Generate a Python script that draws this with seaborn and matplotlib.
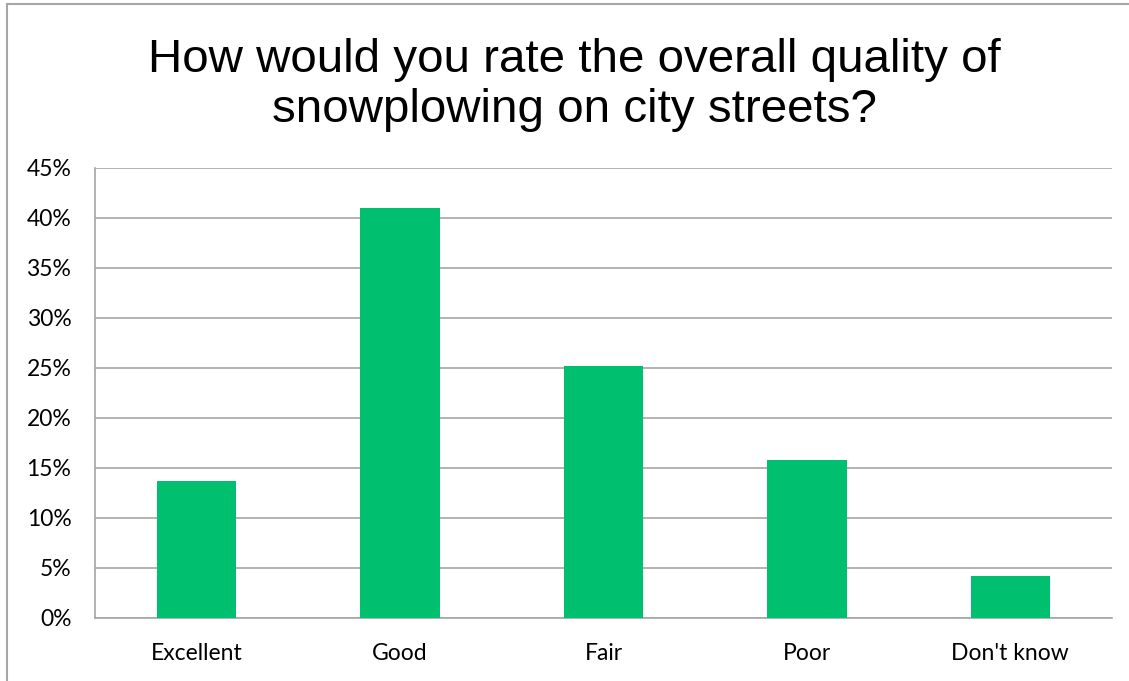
import matplotlib
matplotlib.use('Agg')
import matplotlib.pyplot as plt
import matplotlib.patches as mpatches
from matplotlib.ticker import FixedLocator, PercentFormatter
import seaborn as sns
import pandas as pd

# Survey results (percent of respondents)
categories = ['Excellent', 'Good', 'Fair', 'Poor', "Don't know"]
shares = [13.7, 41.0, 25.2, 15.8, 4.2]
title = 'How would you rate the overall quality of\nsnowplowing on city streets?'

df = pd.DataFrame({'rating': categories, 'share': shares})

sns.set_style('white')
grey = '#A6A6A6'

fig = plt.figure(figsize=(11.29, 6.81), dpi=100)
ax = fig.add_axes([95 / 1129, 1 - 618 / 681, (1112 - 95) / 1129, (618 - 168) / 681])

sns.barplot(data=df, x='rating', y='share', color='#00BF6F', width=0.39,
            saturation=1, linewidth=0, ax=ax, zorder=3)

ax.set_ylim(0, 45)
ax.set_xlim(-0.5, len(categories) - 0.5)
ax.yaxis.set_major_locator(FixedLocator(range(0, 46, 5)))
ax.yaxis.set_major_formatter(PercentFormatter(decimals=0))
ax.grid(axis='y', color=grey, linewidth=1.2, zorder=0)
ax.set_axisbelow(True)

# category boundary ticks on the x axis
ax.xaxis.set_minor_locator(FixedLocator([i - 0.5 for i in range(len(categories) + 1)]))
ax.tick_params(axis='x', which='major', length=0, pad=18, labelsize=16.5, labelcolor='black')
ax.tick_params(axis='x', which='minor', length=8, width=1.2, color=grey, direction='out')
ax.tick_params(axis='y', length=8, width=1.2, color=grey, direction='out', pad=9,
               labelsize=16.5, labelcolor='black')
for lab in ax.get_xticklabels() + ax.get_yticklabels():
    lab.set_fontfamily(['Lato', 'DejaVu Sans'])

ax.set_xlabel('')
ax.set_ylabel('')
for side in ['top', 'right']:
    ax.spines[side].set_visible(False)
for side in ['left', 'bottom']:
    ax.spines[side].set_color(grey)
    ax.spines[side].set_linewidth(1.2)

fig.text(574 / 1129, 1 - 85 / 681, title, ha='center', va='center', fontsize=34.2,
         color='black', family=['Liberation Sans', 'DejaVu Sans'], linespacing=1.2)

# outer chart frame (runs past right and bottom edges)
fig.patches.append(mpatches.Rectangle((7 / 1129, -0.1), 1.2, 1 - 4 / 681 + 0.1,
                                      transform=fig.transFigure, fill=False,
                                      edgecolor=grey, linewidth=1.5))

fig.savefig('out.png', dpi=100)
